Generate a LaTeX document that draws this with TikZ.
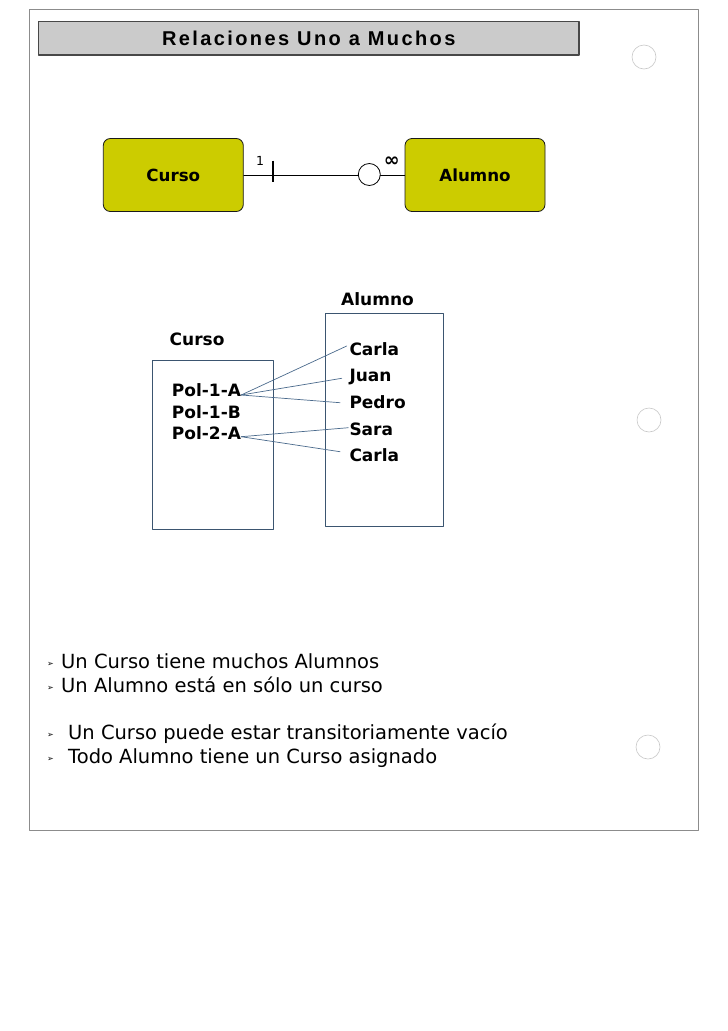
\documentclass[tikz,border=0pt]{standalone}
\usepackage{fontspec}
\setmainfont{DejaVu Sans}
\newfontfamily\titlefont[LetterSpace=12]{Liberation Sans}
\definecolor{frame}{HTML}{8C8C8C}
\definecolor{hole}{HTML}{C8C8C8}
\definecolor{band}{HTML}{CBCBCB}
\definecolor{entity}{HTML}{CCCC00}
\definecolor{link}{HTML}{4A6A8C}
\definecolor{ink}{HTML}{1A1A1A}
\tikzset{
  titleband/.style={draw=ink!80, fill=band, line width=1.1pt, inner sep=0pt,
    minimum width=540.5pt, minimum height=33.5pt,
    font=\titlefont\bfseries\fontsize{20}{22}\selectfont},
  entitybox/.style={draw=ink, fill=entity, rounded corners=7pt, line width=0.8pt,
    minimum width=140pt, minimum height=73pt, inner sep=0pt,
    font=\bfseries\fontsize{16.7}{18}\selectfont},
  setbox/.style={draw=link!80!black, line width=0.7pt},
  member/.style={font=\bfseries\fontsize{17}{19}\selectfont, inner sep=0pt, anchor=base west},
  pairing/.style={draw=link, line width=0.7pt},
  tick/.style={font=\fontsize{12.5}{14}\selectfont, inner sep=0pt},
  bulletmark/.style={font=\fontsize{8}{9}\selectfont, inner sep=0pt},
  claim/.style={font=\fontsize{19.5}{22}\selectfont, inner sep=0pt, anchor=base west},
  hole/.style={draw=hole, line width=0.6pt},
}

\begin{document}
\begin{tikzpicture}[x=1pt, y=-1pt, line cap=round, line join=round]
\path[use as bounding box, fill=white] (0,0) rectangle (728,1031);
\draw[frame, line width=1pt] (29.5,9.5) rectangle (698,830);
\foreach \hx/\hy in {644/57, 649/420, 648/747}{
  \draw[hole] (\hx,\hy) circle[radius=12];
}

\node[titleband] (title) at (308.75,38.25) {Relaciones Uno a Muchos};

% entidades
\node[entitybox] (curso) at (173.3,175) {Curso};
\node[entitybox] (alumno) at (475,175) {Alumno};
\coordinate (tie) at (272.7,175);
\coordinate (many) at (369.3,174.5);
\draw[line width=0.8pt] (curso.east) -- (alumno.west);
\draw[line width=2.4pt, line cap=butt] ([yshift=14.3pt]tie) -- ([yshift=-7.3pt]tie);
\draw[line width=0.8pt, fill=white] (many) circle[radius=11];
\node[tick] (one) at (260,160.7) {1};
\node[tick, font=\bfseries\fontsize{19}{20}\selectfont] (inf) at (391.7,162) {∞};

% conjuntos
\draw[setbox] (152.7,360) rectangle (273.3,529.3);
\draw[setbox] (325.7,313.3) rectangle (443.3,526);
\node[member] (cursoset) at (169.5,345.7) {Curso};
\node[member] (alumnoset) at (341,305) {Alumno};
\node[member] (p1a) at (171.7,396.7) {Pol-1-A};
\node[member] (p1b) at (171.7,418) {Pol-1-B};
\node[member] (p2a) at (171.7,439.3) {Pol-2-A};
\node[member] (carlaA) at (349.3,355) {Carla};
\node[member] (juan) at (349.3,381) {Juan};
\node[member] (pedro) at (349.3,408) {Pedro};
\node[member] (sara) at (349.3,435) {Sara};
\node[member] (carlaB) at (349.3,461.7) {Carla};
\foreach \from/\to/\up/\dx/\dy in {p1a/carlaA/1.7/-2.6/9, p1a/juan/1.7/-7.6/2.7,
    p1a/pedro/1.7/-9.3/5.3, p2a/sara/2.6/-1/7.3, p2a/carlaB/2.6/-9.3/10}{
  \draw[pairing] ([yshift=\up pt]\from.base east) -- ([xshift=\dx pt, yshift=\dy pt]\to.base west);
}

% afirmaciones
\foreach \by/\tx/\txt [count=\k] in {668/61/{Un Curso tiene muchos Alumnos},
    692/61/{Un Alumno está en sólo un curso},
    739/68/{Un Curso puede estar transitoriamente vacío},
    763/68/{Todo Alumno tiene un Curso asignado}}{
  \node[bulletmark] (mark\k) at (50.5,\by-3.5) {➢};
  \node[claim] (claim\k) at (\tx,\by) {\txt};
}
\end{tikzpicture}
\end{document}
